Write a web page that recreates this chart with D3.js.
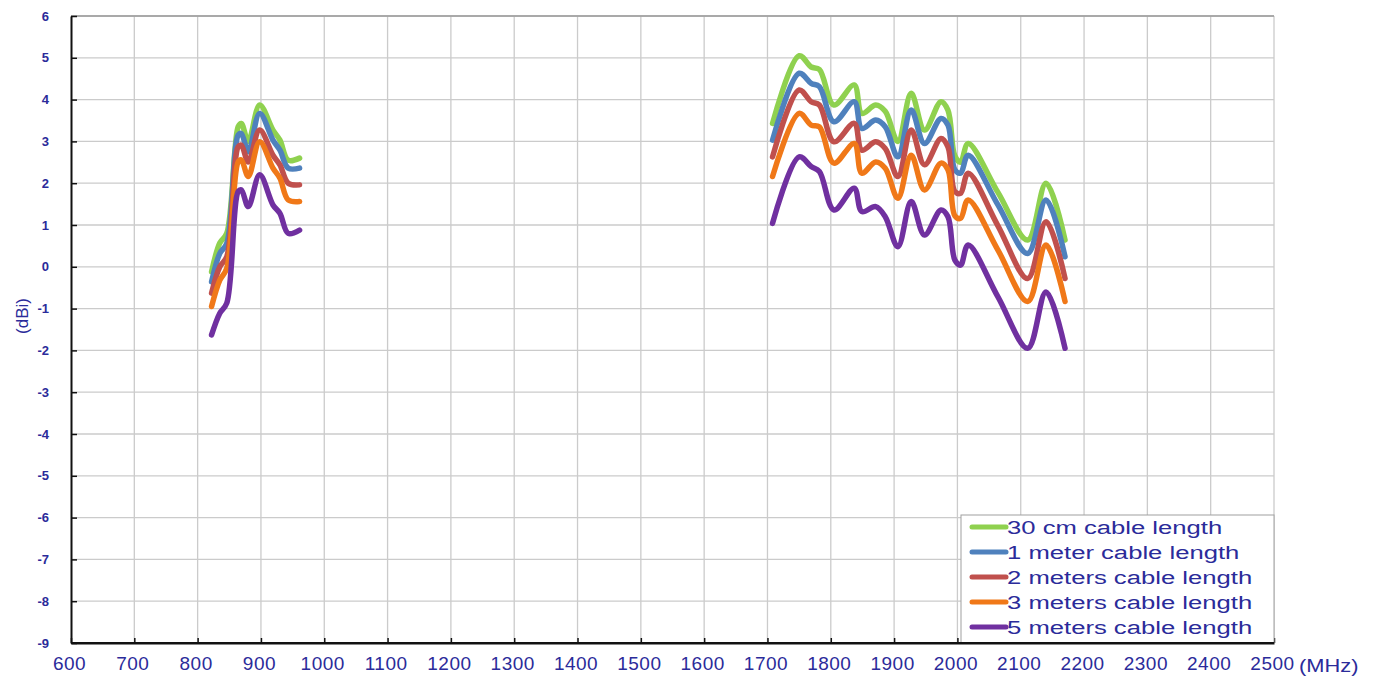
<!DOCTYPE html>
<html>
<head>
<meta charset="utf-8">
<script src="https://cdn.jsdelivr.net/npm/d3@7"></script>
<style>
  body { margin: 0; background: #fff; }
  text { font-family: "Liberation Sans", Arial, sans-serif; fill: #2b2b9a; }
</style>
</head>
<body>
<script>
// frequencies (MHz), low band and high band
var freqLow = [822, 835, 846, 864, 869, 880, 898, 919, 930, 943, 961];
var freqHigh = [1708, 1750, 1769, 1782, 1805, 1837, 1849, 1871, 1886, 1906, 1927, 1948, 1974, 1985, 1996, 2005, 2017, 2064, 2111, 2140, 2170];

// gain (dBi) per series
var green30cmLow = [-0.12, 0.57, 0.8, 3.35, 3.43, 3.0, 3.87, 3.27, 3.03, 2.55, 2.6];
var blue1mLow = [-0.36, 0.32, 0.56, 3.15, 3.19, 2.75, 3.67, 3.03, 2.79, 2.36, 2.36];
var red2mLow = [-0.63, 0.0, 0.24, 2.87, 2.91, 2.51, 3.27, 2.67, 2.44, 2.0, 1.96];
var orange3mLow = [-0.95, -0.32, -0.04, 2.51, 2.56, 2.16, 2.99, 2.36, 2.12, 1.6, 1.56];
var purple5mLow = [-1.63, -1.11, -0.87, 1.8, 1.84, 1.44, 2.2, 1.48, 1.28, 0.8, 0.88];

var green30cmHigh = [3.43, 5.05, 4.78, 4.72, 3.87, 4.35, 3.67, 3.87, 3.72, 3.0, 4.15, 3.27, 3.95, 3.75, 2.65, 2.5, 2.95, 1.78, 0.64, 2.0, 0.64];
var blue1mHigh = [3.03, 4.63, 4.39, 4.31, 3.47, 3.95, 3.31, 3.51, 3.35, 2.63, 3.75, 2.95, 3.55, 3.39, 2.32, 2.24, 2.67, 1.48, 0.32, 1.6, 0.24];
var red2mHigh = [2.63, 4.23, 3.95, 3.87, 2.99, 3.43, 2.79, 2.99, 2.83, 2.16, 3.27, 2.44, 3.07, 2.87, 1.8, 1.76, 2.24, 0.98, -0.28, 1.08, -0.28];
var orange3mHigh = [2.16, 3.67, 3.39, 3.35, 2.48, 2.95, 2.24, 2.51, 2.36, 1.64, 2.67, 1.84, 2.48, 2.32, 1.22, 1.16, 1.6, 0.4, -0.83, 0.52, -0.83];
var purple5mHigh = [1.04, 2.63, 2.4, 2.28, 1.36, 1.88, 1.32, 1.44, 1.2, 0.48, 1.56, 0.76, 1.36, 1.2, 0.16, 0.04, 0.52, -0.72, -1.95, -0.6, -1.95];

var seriesNames = ["30 cm cable length", "1 meter cable length", "2 meters cable length", "3 meters cable length", "5 meters cable length"];
var seriesColors = ["#8fd14f", "#4f81bd", "#c0504d", "#f07818", "#7030a0"];
var lowValues = [green30cmLow, blue1mLow, red2mLow, orange3mLow, purple5mLow];
var highValues = [green30cmHigh, blue1mHigh, red2mHigh, orange3mHigh, purple5mHigh];

var xTicks = d3.range(600, 2501, 100);
var yTicks = d3.range(-9, 7, 1);

var W = 1378, H = 679;
var margin = {top: 16, right: 104, bottom: 36, left: 71};
var width = W - margin.left - margin.right,
    height = H - margin.top - margin.bottom;

var x = d3.scaleLinear().domain([600, 2500]).range([0, width]);
var y = d3.scaleLinear().domain([-9, 6]).range([height, 0]);

var svg = d3.select("body").append("svg")
    .attr("width", W)
    .attr("height", H);

var main = svg.append("g")
    .attr("transform", "translate(" + margin.left + "," + margin.top + ")");

// grid
main.append("g").selectAll("line").data(xTicks.slice(1)).enter().append("line")
    .attr("x1", function(d) { return x(d); }).attr("x2", function(d) { return x(d); })
    .attr("y1", 0).attr("y2", height)
    .attr("stroke", "#cbcbcb").attr("stroke-width", 1.3);
main.append("g").selectAll("line").data(yTicks.slice(1)).enter().append("line")
    .attr("x1", 0).attr("x2", width)
    .attr("y1", function(d) { return y(d); }).attr("y2", function(d) { return y(d); })
    .attr("stroke", "#cbcbcb").attr("stroke-width", 1.3);
main.append("line").attr("x1", 0).attr("x2", width).attr("y1", 0).attr("y2", 0)
    .attr("stroke", "#9a9a9a").attr("stroke-width", 1.3);

// axes
var fmt = function(d) { return String(d); };
var xAxis = d3.axisBottom(x).tickValues(xTicks).tickFormat(fmt).tickSize(-5).tickSizeOuter(0).tickPadding(12);
var yAxis = d3.axisLeft(y).tickValues(yTicks).tickFormat(fmt).tickSize(-6).tickSizeOuter(0).tickPadding(20);

var gx = main.append("g").attr("transform", "translate(0," + height + ")").call(xAxis);
var gy = main.append("g").call(yAxis);

[gx, gy].forEach(function(g) {
  g.select(".domain").attr("stroke", "#111").attr("stroke-width", 2);
  g.selectAll(".tick line").attr("stroke", "#111").attr("stroke-width", 1.5);
  g.selectAll("text").attr("fill", "#2b2b9a").style("font-family", "Liberation Sans, Arial, sans-serif");
});
gx.selectAll("text").style("font-size", "19px").style("letter-spacing", "0.5px")
    .attr("x", -2).attr("y", 14).attr("dy", "0.71em");
gy.selectAll("text").style("font-size", "13px").style("font-weight", "bold").attr("x", -22);

// axis titles
svg.append("text")
    .attr("transform", "translate(1299,672) scale(1.15,1)")
    .style("font-size", "19px")
    .text("(MHz)");
svg.append("text")
    .attr("transform", "translate(28,316) rotate(-90)")
    .attr("text-anchor", "middle")
    .style("font-size", "17px")
    .text("(dBi)");

// lines
var line = d3.line()
    .x(function(d) { return x(d[0]); })
    .y(function(d) { return y(d[1]); })
    .curve(d3.curveCatmullRom.alpha(0.5));

var plot = main.append("g");
seriesNames.forEach(function(name, i) {
  [[freqLow, lowValues[i]], [freqHigh, highValues[i]]].forEach(function(band) {
    var pts = band[0].map(function(f, k) { return [f, band[1][k]]; });
    plot.append("path")
      .datum(pts)
      .attr("d", line)
      .attr("fill", "none")
      .attr("stroke", seriesColors[i])
      .attr("stroke-width", 5.5)
      .attr("stroke-linejoin", "round")
      .attr("stroke-linecap", "round");
  });
});

// legend box at bottom-right of the plot
var legX = 890, legY = 499;
var legend = main.append("g").attr("transform", "translate(" + legX + "," + legY + ")");
legend.append("rect")
    .attr("width", width - legX).attr("height", height - legY)
    .attr("fill", "#fff").attr("stroke", "#a0a0a0").attr("stroke-width", 1);

seriesNames.forEach(function(name, i) {
  var ry = 12 + i * 25;
  legend.append("line")
    .attr("x1", 11).attr("x2", 45).attr("y1", ry).attr("y2", ry)
    .attr("stroke", seriesColors[i]).attr("stroke-width", 5)
    .attr("stroke-linecap", "round");
  legend.append("text")
    .attr("transform", "translate(46," + ry + ") scale(1.35,1)")
    .attr("dy", "0.36em")
    .style("font-size", "19px")
    .text(name);
});

// redraw bottom axis over the legend box
main.append("line").attr("x1", 0).attr("x2", width).attr("y1", height).attr("y2", height)
    .attr("stroke", "#111").attr("stroke-width", 2);
</script>
</body>
</html>
